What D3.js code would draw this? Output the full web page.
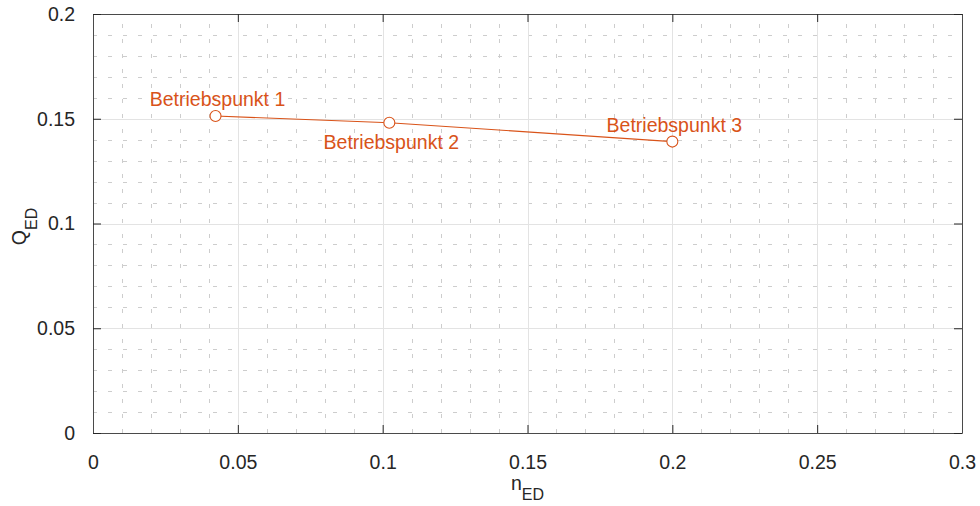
<!DOCTYPE html>
<meta charset="utf-8">
<style>
body { margin: 0; background: #fff; }
text { font-family: "Liberation Sans", Arial, sans-serif; }
.tick-label { fill: #262626; font-size: 19.5px; }
.minor { stroke: #cdcdcd; stroke-width: 1px; stroke-dasharray: 4,11; }
.major { stroke: #e3e3e3; stroke-width: 1px; }
.line { fill: none; stroke: #D95319; stroke-width: 1.1px; }
.marker { fill: #fff; stroke: #D95319; stroke-width: 1.1px; }
.pt-label { fill: #D95319; font-size: 19.5px; }
</style>
<body>
<script src="https://d3js.org/d3.v7.min.js"></script>
<script>

    // data
    let nED = [0.0423, 0.1023, 0.2000];
    let QED = [0.1513, 0.1481, 0.1391];
    let pointNames = ["Betriebspunkt 1", "Betriebspunkt 2", "Betriebspunkt 3"];
    let xTicks = [0, 0.05, 0.1, 0.15, 0.2, 0.25, 0.3];
    let yTicks = [0, 0.05, 0.1, 0.15, 0.2];
    let xTickLabels = ["0", "0.05", "0.1", "0.15", "0.2", "0.25", "0.3"];
    let yTickLabels = ["0", "0.05", "0.1", "0.15", "0.2"];

    let W = 980, H = 506;
    let margin = {top: 14, right: 18, bottom: 73, left: 93},
        width = W - margin.left - margin.right,
        height = H - margin.top - margin.bottom;

    let x = d3.scaleLinear().domain([0, 0.3]).range([0, width]);
    let y = d3.scaleLinear().domain([0, 0.2]).range([height, 0]);

    let svg = d3.select("body").append("svg")
        .attr("width", W)
        .attr("height", H)
        .append("g")
        .attr("transform", "translate(" + margin.left + "," + margin.top + ")");

    // minor grid every 0.01
    let xMinor = d3.range(1, 30).map(function (i) { return i / 100; })
        .filter(function (v) { return Math.round(v * 100) % 5 !== 0; });
    let yMinor = d3.range(1, 20).map(function (i) { return i / 100; })
        .filter(function (v) { return Math.round(v * 100) % 5 !== 0; });

    svg.selectAll(".vminor").data(xMinor).enter().append("line")
        .attr("class", "minor")
        .attr("x1", function (d) { return Math.round(x(d)) + 0.5; })
        .attr("x2", function (d) { return Math.round(x(d)) + 0.5; })
        .attr("y1", height).attr("y2", 0);
    svg.selectAll(".hminor").data(yMinor).enter().append("line")
        .attr("class", "minor")
        .attr("y1", function (d) { return Math.round(y(d)) + 0.5; })
        .attr("y2", function (d) { return Math.round(y(d)) + 0.5; })
        .attr("x1", 0).attr("x2", width);

    // major grid
    svg.selectAll(".vmajor").data(xTicks.slice(1, -1)).enter().append("line")
        .attr("class", "major")
        .attr("x1", function (d) { return Math.round(x(d)) + 0.5; })
        .attr("x2", function (d) { return Math.round(x(d)) + 0.5; })
        .attr("y1", 0).attr("y2", height);
    svg.selectAll(".hmajor").data(yTicks.slice(1, -1)).enter().append("line")
        .attr("class", "major")
        .attr("y1", function (d) { return Math.round(y(d)) + 0.5; })
        .attr("y2", function (d) { return Math.round(y(d)) + 0.5; })
        .attr("x1", 0).attr("x2", width);

    // axes, ticks inward on all four sides
    let tickLen = 8;
    function styleAxis(g) {
        g.select(".domain").attr("stroke", "#4a4a4a");
        g.selectAll(".tick line").attr("stroke", "#262626");
        g.selectAll(".tick text").attr("class", "tick-label").attr("font-size", null).attr("font-family", null);
    }

    svg.append("g")
        .attr("transform", "translate(0," + height + ")")
        .call(d3.axisBottom(x).tickValues(xTicks)
            .tickFormat(function (d, i) { return xTickLabels[i]; })
            .tickSizeInner(-tickLen).tickSizeOuter(0).tickPadding(22))
        .call(styleAxis);
    svg.append("g")
        .call(d3.axisTop(x).tickValues(xTicks).tickFormat("")
            .tickSizeInner(-tickLen).tickSizeOuter(0))
        .call(styleAxis);
    svg.append("g")
        .call(d3.axisLeft(y).tickValues(yTicks)
            .tickFormat(function (d, i) { return yTickLabels[i]; })
            .tickSizeInner(-tickLen).tickSizeOuter(0).tickPadding(18))
        .call(styleAxis);
    svg.append("g")
        .attr("transform", "translate(" + width + ",0)")
        .call(d3.axisRight(y).tickValues(yTicks).tickFormat("")
            .tickSizeInner(-tickLen).tickSizeOuter(0))
        .call(styleAxis);

    // data
    let pts = nED.map(function (v, i) { return {x: v, y: QED[i], name: pointNames[i], i: i}; });

    let valueline = d3.line()
        .x(function (d) { return x(d.x); })
        .y(function (d) { return y(d.y); });

    svg.append("path")
        .data([pts])
        .attr("class", "line")
        .attr("d", valueline);

    svg.selectAll(".marker").data(pts).enter().append("circle")
        .attr("class", "marker")
        .attr("r", 5.5)
        .attr("cx", function (d) { return x(d.x); })
        .attr("cy", function (d) { return y(d.y); });

    svg.selectAll(".pt-label").data(pts).enter().append("text")
        .attr("class", "pt-label")
        .attr("text-anchor", "middle")
        .attr("x", function (d) { return x(d.x) + 2; })
        .attr("y", function (d) { return y(d.y) + (d.i === 1 ? 26 : -10); })
        .text(function (d) { return d.name; });

    // axis labels
    let xl = svg.append("text")
        .attr("fill", "#262626")
        .attr("text-anchor", "middle")
        .attr("x", width / 2)
        .attr("y", height + 57)
        .style("font-size", "19.5px");
    xl.append("tspan").text("n");
    xl.append("tspan").attr("dy", 10).style("font-size", "16px").text("ED");

    let yl = svg.append("text")
        .attr("fill", "#262626")
        .attr("text-anchor", "middle")
        .attr("transform", "translate(" + (26 - margin.left) + "," + (226.5 - margin.top) + ") rotate(-90)")
        .style("font-size", "19.5px");
    yl.append("tspan").text("Q");
    yl.append("tspan").attr("dy", 11).style("font-size", "16px").text("ED");

</script>
</body>
